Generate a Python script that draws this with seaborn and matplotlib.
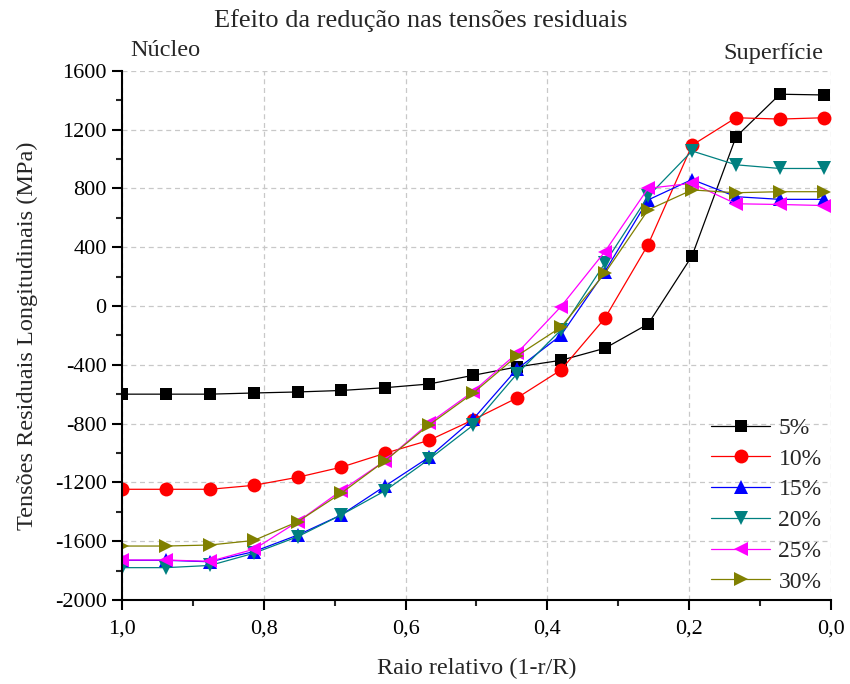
import numpy as np
import pandas as pd
import matplotlib
matplotlib.use("Agg")
import matplotlib.pyplot as plt
import seaborn as sns
from matplotlib.ticker import MultipleLocator, FixedLocator

# ---- data ----
x_pos = [1.0, 0.938, 0.876, 0.814, 0.752, 0.691, 0.629, 0.567, 0.505,
         0.443, 0.381, 0.319, 0.258, 0.196, 0.134, 0.072, 0.010]
s05 = [-600, -600, -600, -592, -585, -575, -556, -531, -472, -415, -370, -288, -123, 340, 1150, 1440, 1435]
s10 = [-1247, -1247, -1247, -1220, -1165, -1097, -1002, -914, -775, -626, -436, -84, 417, 1093, 1280, 1271, 1280]
s15 = [-1730, -1730, -1740, -1671, -1558, -1422, -1225, -1029, -771, -430, -200, 233, 721, 860, 743, 725, 725]
s20 = [-1780, -1780, -1765, -1682, -1569, -1422, -1257, -1043, -812, -462, -164, 290, 745, 1054, 960, 935, 935]
s25 = [-1728, -1728, -1737, -1655, -1467, -1257, -1053, -798, -583, -322, -5, 369, 800, 834, 695, 690, 683]
s30 = [-1633, -1633, -1626, -1595, -1467, -1274, -1053, -810, -594, -340, -145, 222, 653, 789, 770, 777, 777]
labels = ["5%", "10%", "15%", "20%", "25%", "30%"]
series = [s05, s10, s15, s20, s25, s30]
colors = ["#000000", "#ff0000", "#0000ff", "#008080", "#ff00ff", "#808000"]
markers = ["s", "o", "^", "v", "<", ">"]
msizes = [9, 10, 10, 10, 10, 10]

xticks = [1.0, 0.8, 0.6, 0.4, 0.2, 0.0]
xticklabels = ["1,0", "0,8", "0,6", "0,4", "0,2", "0,0"]
yticks = [-2000, -1600, -1200, -800, -400, 0, 400, 800, 1200, 1600]

sns.set_style("white")
plt.rcParams['font.family'] = ['Liberation Serif', 'DejaVu Serif']

fig = plt.figure(figsize=(8.5, 6.84), dpi=100)
ax = fig.add_axes([122/850, 1 - 600/684, (831-122)/850, (600-70.7)/684])

for lab, ys, c, m, ms in zip(labels, series, colors, markers, msizes):
    df = pd.DataFrame({"x": x_pos, "y": ys})
    sns.lineplot(data=df, x="x", y="y", ax=ax, color=c, marker=m, markersize=ms,
                 markeredgewidth=0, linewidth=0.9, sort=False, label=lab,
                 estimator=None)

ax.set_xlim(1.0, 0.0)
ax.set_ylim(-2000, 1600)
ax.xaxis.set_major_locator(FixedLocator(xticks))
ax.set_xticklabels(xticklabels)
ax.xaxis.set_minor_locator(MultipleLocator(0.1))
ax.set_yticks(yticks)
ax.set_yticklabels([str(v) for v in yticks])
ax.yaxis.set_minor_locator(MultipleLocator(200))

ax.grid(True, which="major", linestyle=(0, (4, 3)), color="#c8c8c8", linewidth=0.9)
for side in ["top", "right"]:
    ax.spines[side].set_visible(False)
for side in ["left", "bottom"]:
    ax.spines[side].set_color("black")
    ax.spines[side].set_linewidth(1.5)

ax.tick_params(axis="both", which="major", direction="out", length=7, width=1.5,
               labelsize=16, colors="black")
ax.tick_params(axis="x", which="major", pad=7)
ax.tick_params(axis="y", which="major", pad=4)
ax.tick_params(axis="both", which="minor", direction="out", length=4, width=1.5)
ax.tick_params(axis="both", which="both", left=True, bottom=True)

ax.set_xlabel("Raio relativo (1-r/R)", fontsize=17.5, labelpad=14)
ax.set_ylabel("Tensões Residuais Longitudinais (MPa)", fontsize=17.5, labelpad=12)

fig.text(421/850, 1 - 21/684, "Efeito da redução nas tensões residuais",
         ha="center", va="center", fontsize=19)
fig.text(130/850, 1 - 50/684, "Núcleo", ha="left", va="center", fontsize=17.5)
fig.text(823/850, 1 - 54/684, "Superfície", ha="right", va="center", fontsize=17.5)

leg = ax.legend(loc="lower right", bbox_to_anchor=(1.0, -0.004), frameon=False,
                fontsize=17, handlelength=2.5, labelspacing=0.39,
                handletextpad=0.35, borderaxespad=0.0)

fig.savefig("out.png", dpi=100)
